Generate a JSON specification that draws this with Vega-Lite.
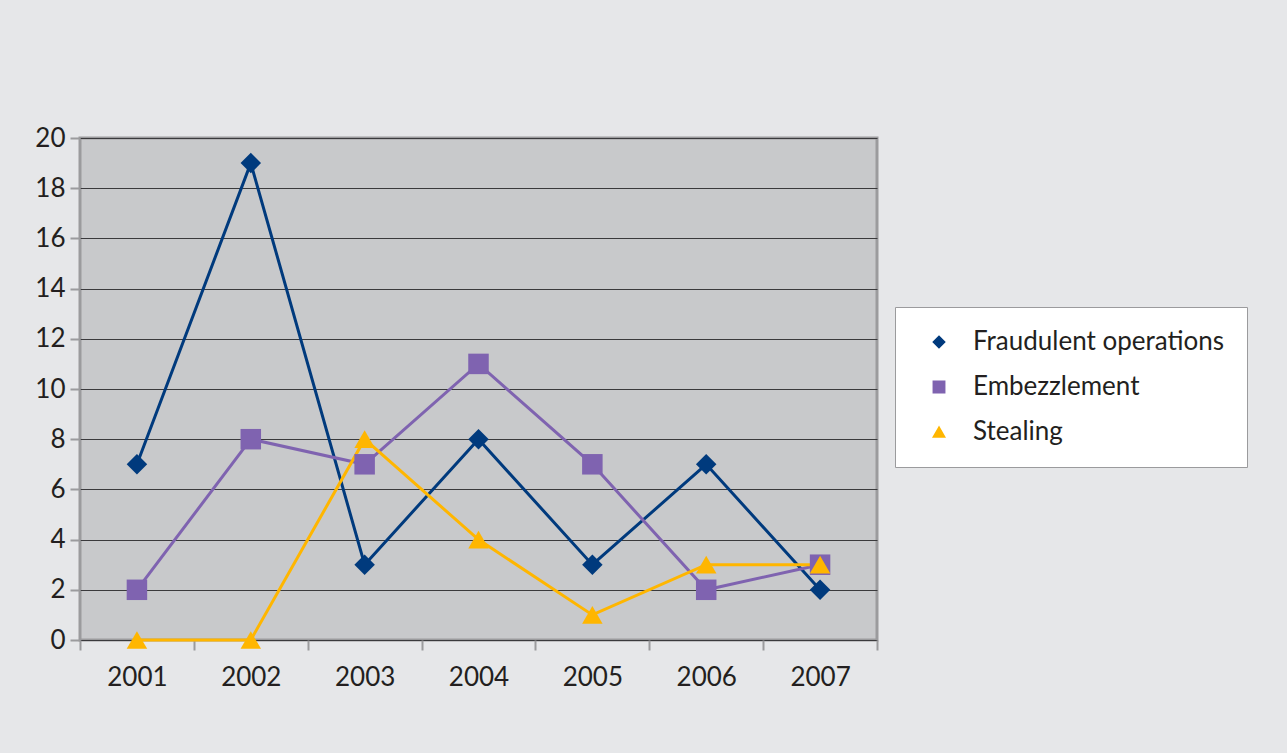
{
  "$schema": "https://vega.github.io/schema/vega-lite/v6.json",
  "autosize": "none",
  "width": 797,
  "height": 502,
  "padding": {"left": 80, "top": 138, "right": 410, "bottom": 113},
  "background": "#e6e7e9",
  "config": {
    "view": {"fill": "#c8c9cb", "stroke": "#9b9b9d", "strokeWidth": 3},
    "font": "Lato",
    "axis": {"labelFont": "Lato", "labelFontSize": 26, "labelColor": "#231f20", "domain": false, "tickColor": "#9b9b9d", "tickWidth": 2, "tickSize": 10, "title": null}
  },
  "data": {"values": [
    {"year": "2001", "series": "Fraudulent operations", "value": 7},
    {"year": "2002", "series": "Fraudulent operations", "value": 19},
    {"year": "2003", "series": "Fraudulent operations", "value": 3},
    {"year": "2004", "series": "Fraudulent operations", "value": 8},
    {"year": "2005", "series": "Fraudulent operations", "value": 3},
    {"year": "2006", "series": "Fraudulent operations", "value": 7},
    {"year": "2007", "series": "Fraudulent operations", "value": 2},
    {"year": "2001", "series": "Embezzlement", "value": 2},
    {"year": "2002", "series": "Embezzlement", "value": 8},
    {"year": "2003", "series": "Embezzlement", "value": 7},
    {"year": "2004", "series": "Embezzlement", "value": 11},
    {"year": "2005", "series": "Embezzlement", "value": 7},
    {"year": "2006", "series": "Embezzlement", "value": 2},
    {"year": "2007", "series": "Embezzlement", "value": 3},
    {"year": "2001", "series": "Stealing", "value": 0},
    {"year": "2002", "series": "Stealing", "value": 0},
    {"year": "2003", "series": "Stealing", "value": 8},
    {"year": "2004", "series": "Stealing", "value": 4},
    {"year": "2005", "series": "Stealing", "value": 1},
    {"year": "2006", "series": "Stealing", "value": 3},
    {"year": "2007", "series": "Stealing", "value": 3}
  ]},
  "encoding": {
    "x": {"field": "year", "type": "ordinal", "scale": {"type": "band", "paddingInner": 0, "paddingOuter": 0},
      "axis": {"labelAngle": 0, "tickBand": "extent", "labelPadding": 14, "grid": false}},
    "y": {"field": "value", "type": "quantitative", "scale": {"domain": [0, 20], "nice": false},
      "axis": {"values": [0,2,4,6,8,10,12,14,16,18,20], "grid": true, "gridColor": "#3a3a3c", "gridWidth": 1, "labelPadding": 5}},
    "color": {"field": "series", "type": "nominal",
      "sort": ["Fraudulent operations", "Embezzlement", "Stealing"],
      "scale": {"domain": ["Fraudulent operations", "Embezzlement", "Stealing"], "range": ["#003a7d", "#7f63b0", "#ffb600"]},
      "legend": {"title": null, "orient": "none", "legendX": 815, "legendY": 169, "fillColor": "#ffffff", "strokeColor": "#9b9b9d", "padding": 22, "labelFont": "Lato", "labelFontSize": 26, "labelColor": "#231f20", "rowPadding": 19, "symbolSize": 130, "symbolOffset": 9, "labelOffset": 21, "labelLimit": 400}},
    "order": {"field": "year"}
  },
  "layer": [
    {"mark": {"type": "line", "strokeWidth": 3}, "encoding": {"detail": {"field": "series"}}},
    {"mark": {"type": "point", "filled": true, "opacity": 1, "size": 420},
      "encoding": {"shape": {"field": "series", "type": "nominal",
        "scale": {"domain": ["Fraudulent operations", "Embezzlement", "Stealing"], "range": ["diamond", "square", "triangle-up"]},
        "legend": {"title": null}}}}
  ]
}
